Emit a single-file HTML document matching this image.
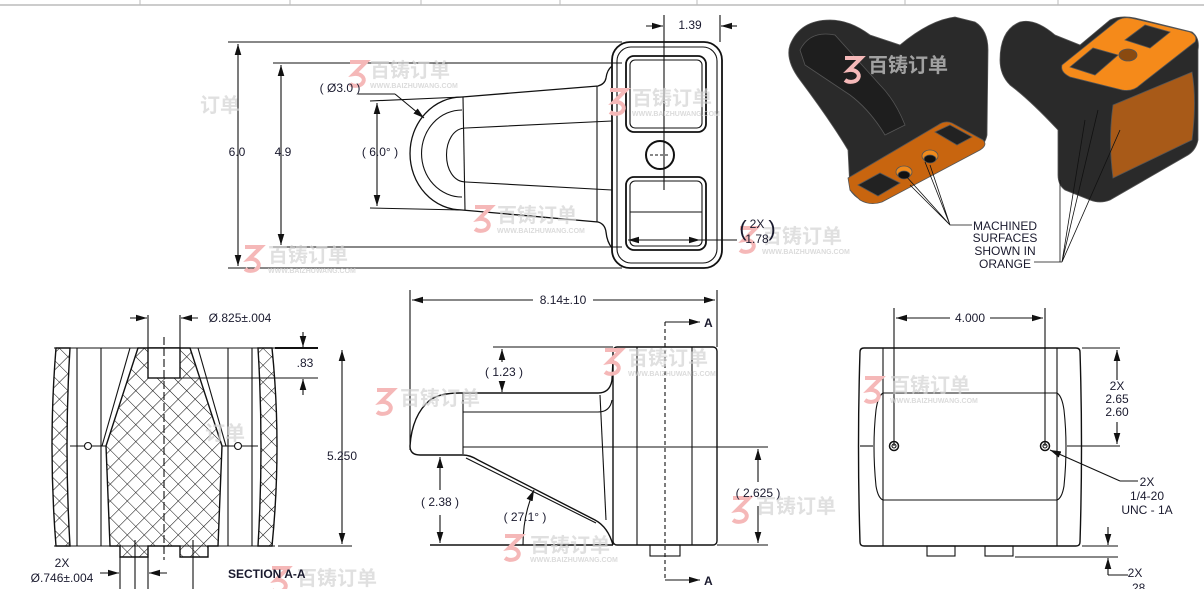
<!DOCTYPE html>
<html><head><meta charset="utf-8"><style>
html,body{margin:0;padding:0;background:#fff;width:1204px;height:589px;overflow:hidden}
svg{display:block}
text{font-family:"Liberation Sans",sans-serif;font-size:12px;fill:#1a1a2e}
.wm{font-family:"Liberation Sans","Noto Sans CJK SC",sans-serif;font-size:20px;font-weight:bold;fill:#d4d4d4;opacity:.7}
.wmu{font-size:7px;fill:#ccc}
.wz{fill:none;stroke:#f5b8b8;stroke-width:4}
</style></head><body>
<svg width="1204" height="589" viewBox="0 0 1204 589" xmlns="http://www.w3.org/2000/svg">
<defs>
<marker id="a" viewBox="0 0 10 6" refX="10" refY="3" markerWidth="10" markerHeight="6" orient="auto-start-reverse"><path d="M0,0L10,3L0,6z" fill="#111"/></marker>
<pattern id="h" width="12" height="12" patternUnits="userSpaceOnUse" patternTransform="rotate(45)"><path d="M0,0H12M0,0V12" stroke="#111" stroke-width="1.1"/></pattern>
</defs>
<line x1="0" y1="5" x2="1204" y2="5" stroke="#bbb" stroke-width="1.5"/>
<g stroke="#bbb"><line x1="140" y1="0" x2="140" y2="5"/><line x1="290" y1="0" x2="290" y2="5"/><line x1="421" y1="0" x2="421" y2="5"/><line x1="560" y1="0" x2="560" y2="5"/><line x1="697" y1="0" x2="697" y2="5"/><line x1="905" y1="0" x2="905" y2="5"/><line x1="1058" y1="0" x2="1058" y2="5"/></g>

<g fill="none" stroke="#111" stroke-width="1.1">
<line x1="228" y1="42" x2="622" y2="42"/><line x1="228" y1="268" x2="622" y2="268"/>
<line x1="238" y1="44" x2="238" y2="266" marker-start="url(#a)" marker-end="url(#a)"/>
<line x1="273" y1="63" x2="622" y2="63"/><line x1="273" y1="247" x2="622" y2="247"/>
<line x1="281" y1="65" x2="281" y2="245" marker-start="url(#a)" marker-end="url(#a)"/>
<rect x="612" y="42" width="110" height="226" rx="18" stroke-width="1.8"/>
<rect x="617" y="47" width="100" height="216" rx="14"/>
<rect x="626" y="56" width="80" height="76" rx="8" stroke-width="1.8"/>
<rect x="630" y="60" width="72" height="68" rx="5"/>
<rect x="626" y="177" width="80" height="73" rx="8" stroke-width="1.8"/>
<rect x="630" y="181" width="72" height="65" rx="5"/>
<line x1="630" y1="212" x2="702" y2="212"/>
<circle cx="660" cy="155" r="14" stroke-width="2"/>
<line x1="664" y1="15" x2="664" y2="190"/><line x1="720" y1="15" x2="720" y2="42"/>
<line x1="646" y1="26" x2="663" y2="26" marker-end="url(#a)"/><line x1="737" y1="26" x2="721" y2="26" marker-end="url(#a)"/>
<line x1="650" y1="155" x2="670" y2="155" stroke-dasharray="3 2"/>
<path d="M462,97 L598,86 Q605,84 606,78 Q607,70 612,66" stroke-width="1.3"/>
<path d="M462,210 L598,222 Q605,224 606,232 Q607,242 612,248" stroke-width="1.3"/>
<path d="M462,97 A52,56.5 0 0 0 462,210" stroke-width="1.3"/>
<path d="M462,110 A40,43 0 0 0 462,197"/>
<path d="M466,128 L612,121 M466,182 L612,190"/>
<path d="M466,128 C440,128 440,182 466,182"/>
<line x1="463" y1="97" x2="465" y2="210"/>
<line x1="597" y1="86" x2="597" y2="222"/>
<line x1="370" y1="101" x2="462" y2="97"/><line x1="370" y1="208" x2="462" y2="210"/>
<line x1="377" y1="103" x2="377" y2="206" marker-start="url(#a)" marker-end="url(#a)"/>
<line x1="358" y1="94" x2="395" y2="94"/><line x1="395" y1="94" x2="424" y2="118" marker-end="url(#a)"/>
<line x1="628" y1="240" x2="700" y2="240" marker-start="url(#a)" marker-end="url(#a)"/><line x1="700" y1="240" x2="737" y2="240"/>

<line x1="148" y1="315" x2="148" y2="348"/><line x1="180" y1="315" x2="180" y2="348"/>
<line x1="130" y1="318" x2="147" y2="318" marker-end="url(#a)"/><line x1="198" y1="318" x2="181" y2="318" marker-end="url(#a)"/>
<line x1="275" y1="348" x2="318" y2="348" stroke-width="2"/><line x1="148" y1="378" x2="318" y2="378"/>
<line x1="303" y1="332" x2="303" y2="347" marker-end="url(#a)"/><line x1="303" y1="395" x2="303" y2="379" marker-end="url(#a)"/>
<line x1="278" y1="546" x2="352" y2="546"/>
<line x1="342" y1="350" x2="342" y2="544" marker-start="url(#a)" marker-end="url(#a)"/>
</g>
<g stroke="#111" stroke-width="1.4">
<path d="M56,348 H70 Q64,446 70,546 H56 Q48,446 56,348Z" fill="url(#h)"/>
<path d="M258,348 H272 Q282,446 272,546 H258 Q264,446 258,348Z" fill="url(#h)"/>
<path d="M138,348 H190 L222,446 L218,546 H208 V557 H180 V546 H148 V557 H120 V546 H110 L106,446Z" fill="url(#h)"/>
<rect x="148" y="348" width="32" height="30" fill="#fff"/>
</g>
<g fill="none" stroke="#111" stroke-width="1.1">
<line x1="54" y1="348" x2="275" y2="348"/><line x1="54" y1="546" x2="275" y2="546"/>
<line x1="77" y1="348" x2="77" y2="546"/><line x1="101" y1="348" x2="101" y2="546"/>
<line x1="252" y1="348" x2="252" y2="546"/><line x1="228" y1="348" x2="228" y2="546"/>
<path d="M130,348 L102,446 M198,348 L226,446"/>
<line x1="70" y1="446" x2="106" y2="446"/><line x1="222" y1="446" x2="258" y2="446"/>
<circle cx="88" cy="446" r="3.5" fill="#fff"/><circle cx="238" cy="446" r="3.5" fill="#fff"/>
<line x1="164" y1="337" x2="164" y2="560" stroke-dasharray="8 3"/>
<line x1="120" y1="557" x2="120" y2="589"/><line x1="135" y1="540" x2="135" y2="589"/><line x1="148" y1="557" x2="148" y2="589"/><line x1="193" y1="540" x2="193" y2="589"/>
<line x1="100" y1="573" x2="119" y2="573" marker-end="url(#a)"/><line x1="167" y1="573" x2="149" y2="573" marker-end="url(#a)"/>

<line x1="410" y1="290" x2="410" y2="450"/><line x1="717" y1="290" x2="717" y2="347"/>
<line x1="412" y1="300" x2="533" y2="300" marker-start="url(#a)"/><line x1="593" y1="300" x2="715" y2="300" marker-end="url(#a)"/>
<rect x="613" y="347" width="104" height="198" rx="4" stroke-width="1.4"/>
<line x1="637" y1="347" x2="637" y2="545"/><line x1="692" y1="347" x2="692" y2="545"/>
<path d="M410,446 Q412,415 430,400 Q440,393 460,393 L598,393 Q610,393 612,380 L613,360" stroke-width="1.4"/>
<path d="M463,412 L598,412 Q610,412 612,400"/>
<line x1="463" y1="393" x2="463" y2="454"/>
<path d="M410,446 Q410,455 420,455 L463,455 Q470,455 478,460 L595,520 Q608,527 613,545" stroke-width="1.4"/>
<path d="M466,458 L596,523"/>
<line x1="600" y1="395" x2="606" y2="520"/>
<line x1="463" y1="447" x2="768" y2="447"/>
<line x1="430" y1="545" x2="613" y2="545" stroke-width="1.4"/><line x1="717" y1="545" x2="768" y2="545"/>
<rect x="650" y="545" width="30" height="11"/>
<line x1="493" y1="347" x2="613" y2="347"/>
<line x1="502" y1="349" x2="502" y2="362" marker-start="url(#a)"/><line x1="502" y1="383" x2="502" y2="392" marker-end="url(#a)"/>
<line x1="440" y1="457" x2="440" y2="490" marker-start="url(#a)"/><line x1="440" y1="515" x2="440" y2="543" marker-end="url(#a)"/>
<line x1="758" y1="449" x2="758" y2="482" marker-start="url(#a)"/><line x1="758" y1="506" x2="758" y2="543" marker-end="url(#a)"/>
<path d="M523,545 Q523,515 534,490" marker-end="url(#a)"/>
<path d="M665,322 V580" stroke-dasharray="4 3"/>
<line x1="665" y1="322" x2="700" y2="322" marker-end="url(#a)"/><line x1="665" y1="580" x2="700" y2="580" marker-end="url(#a)"/>

<path d="M864,348 H1076 Q1080,348 1080,352 Q1083,446 1080,542 Q1080,546 1076,546 H864 Q860,546 860,542 Q857,446 860,352 Q860,348 864,348Z" stroke-width="1.4"/>
<line x1="883" y1="348" x2="883" y2="546"/><line x1="1057" y1="348" x2="1057" y2="546"/>
<path d="M883,393 H1057 Q1062,396 1064,410 Q1068,446 1064,486 Q1062,498 1057,500 H883 Q878,498 876,486 Q872,446 876,410 Q878,396 883,393Z"/>
<line x1="860" y1="446" x2="873" y2="446"/><line x1="1067" y1="446" x2="1120" y2="446"/>
<circle cx="894" cy="446" r="4.5" stroke-width="1.5"/><circle cx="894" cy="446" r="2"/>
<circle cx="1045" cy="446" r="4.5" stroke-width="1.5"/><circle cx="1045" cy="446" r="2"/>
<line x1="894" y1="308" x2="894" y2="446"/><line x1="1045" y1="308" x2="1045" y2="446"/>
<line x1="896" y1="318" x2="950" y2="318" marker-start="url(#a)"/><line x1="990" y1="318" x2="1043" y2="318" marker-end="url(#a)"/>
<line x1="1082" y1="348" x2="1120" y2="348"/>
<line x1="1117" y1="350" x2="1117" y2="380" marker-start="url(#a)"/><line x1="1117" y1="422" x2="1117" y2="444" marker-end="url(#a)"/>
<line x1="1120" y1="481" x2="1138" y2="481"/><line x1="1120" y1="481" x2="1050" y2="450" marker-end="url(#a)"/>
<rect x="927" y="546" width="28" height="10"/><rect x="985" y="546" width="28" height="10"/>
<line x1="1082" y1="546" x2="1118" y2="546"/><line x1="1015" y1="557" x2="1118" y2="557"/>
<line x1="1108" y1="527" x2="1108" y2="545" marker-end="url(#a)"/><line x1="1108" y1="575" x2="1108" y2="558" marker-end="url(#a)"/>
<line x1="1108" y1="575" x2="1128" y2="575"/>
</g>

<g stroke="#555" stroke-width="0.8">
<path d="M790,45 Q800,20 830,20 Q850,20 870,35 L900,45 Q930,20 955,17 L975,22 Q988,30 988,50 L987,135 Q985,145 978,147 L880,202 Q860,205 850,190 L848,150 Q830,120 800,80 Q785,60 790,45Z" fill="#2a2a2a"/>
<path d="M800,50 Q810,30 835,35 L880,85 Q895,100 905,125 L885,135 Q870,110 850,95 L805,65Z" fill="#1e1e1e"/>
<path d="M848,178 L938,125 Q945,120 952,123 L983,140 Q988,145 980,150 L882,202 Q870,206 860,200 L850,190Z" fill="#c8650f"/>
<path d="M858,185 L880,173 L900,183 L878,196Z" fill="#222"/><path d="M935,132 L950,125 L972,137 L957,145Z" fill="#222"/>
<ellipse cx="904" cy="172" rx="8" ry="6" fill="#f08a1c"/><ellipse cx="904" cy="175" rx="6" ry="4" fill="#111"/>
<ellipse cx="930" cy="156" rx="8" ry="6" fill="#f08a1c"/><ellipse cx="930" cy="159" rx="6" ry="4" fill="#111"/>
</g>
<g stroke="#555" stroke-width="0.8">
<path d="M1000,60 Q1000,30 1020,22 Q1035,18 1055,35 L1080,45 L1110,20 Q1120,15 1135,18 L1192,32 Q1200,38 1198,50 L1198,140 Q1196,150 1188,155 L1110,200 Q1100,204 1090,200 L1065,190 Q1058,185 1058,175 L1058,130 Q1030,100 1010,85 Q1000,75 1000,60Z" fill="#2a2a2a"/>
<path d="M1062,65 L1118,20 Q1125,16 1135,19 L1190,32 Q1198,36 1195,42 L1140,85 Q1133,92 1122,90 L1070,77 Q1060,72 1062,65Z" fill="#f58a1a"/>
<path d="M1070,67 L1093,48 L1118,55 L1095,75Z" fill="#2a2a2a"/><path d="M1125,40 L1145,25 L1170,32 L1150,48Z" fill="#2a2a2a"/>
<ellipse cx="1128" cy="55" rx="9" ry="6" fill="#8a4a10"/>
<path d="M1113,105 L1192,72 Q1197,100 1192,140 L1113,178 Q1108,140 1113,105Z" fill="#a85a18"/>
</g>
<g stroke="#111" stroke-width="0.8" fill="none">
<path d="M910,185 L950,225 M930,165 L950,225 M925,162 L950,225 M905,175 L950,225 L972,225"/>
<path d="M1060,180 L1060,262 M1085,120 L1062,262 M1098,110 L1062,262 M1120,130 L1062,262 M1062,262 L1034,262"/>
</g>

<g>
<path class="wz" d="M350,62 h16 l-12,12 a8,6 0 1 1 -4,10"/><text class="wm" x="370" y="77">百铸订单</text><text class="wmu wm" x="370" y="88">WWW.BAIZHUWANG.COM</text>
<path class="wz" d="M610,90 h16 l-12,12 a8,6 0 1 1 -4,10"/><text class="wm" x="632" y="105">百铸订单</text><text class="wmu wm" x="632" y="116">WWW.BAIZHUWANG.COM</text>
<path class="wz" d="M475,207 h16 l-12,12 a8,6 0 1 1 -4,10"/><text class="wm" x="497" y="222">百铸订单</text><text class="wmu wm" x="497" y="233">WWW.BAIZHUWANG.COM</text>
<path class="wz" d="M245,247 h16 l-12,12 a8,6 0 1 1 -4,10"/><text class="wm" x="268" y="262">百铸订单</text><text class="wmu wm" x="268" y="273">WWW.BAIZHUWANG.COM</text>
<path class="wz" d="M740,228 h16 l-12,12 a8,6 0 1 1 -4,10"/><text class="wm" x="762" y="243">百铸订单</text><text class="wmu wm" x="762" y="254">WWW.BAIZHUWANG.COM</text>
<path class="wz" d="M605,350 h16 l-12,12 a8,6 0 1 1 -4,10"/><text class="wm" x="628" y="365">百铸订单</text><text class="wmu wm" x="628" y="376">WWW.BAIZHUWANG.COM</text>
<path class="wz" d="M377,390 h16 l-12,12 a8,6 0 1 1 -4,10"/><text class="wm" x="400" y="405">百铸订单</text>
<path class="wz" d="M865,378 h16 l-12,12 a8,6 0 1 1 -4,10"/><text class="wm" x="890" y="392">百铸订单</text><text class="wmu wm" x="890" y="403">WWW.BAIZHUWANG.COM</text>
<path class="wz" d="M733,498 h16 l-12,12 a8,6 0 1 1 -4,10"/><text class="wm" x="756" y="513">百铸订单</text>
<path class="wz" d="M505,536 h16 l-12,12 a8,6 0 1 1 -4,10"/><text class="wm" x="530" y="552">百铸订单</text><text class="wmu wm" x="530" y="562">WWW.BAIZHUWANG.COM</text>
<path class="wz" d="M272,568 h16 l-12,12 a8,6 0 1 1 -4,10"/><text class="wm" x="297" y="585">百铸订单</text>
<text class="wm" x="200" y="112">订单</text><text class="wm" x="205" y="440">订单</text>
<path class="wz" d="M845,58 h16 l-12,12 a8,6 0 1 1 -4,10"/><text class="wm" x="868" y="72">百铸订单</text>
</g>

<g text-anchor="middle">
<text x="237" y="156">6.0</text><text x="283" y="156">4.9</text>
<text x="340" y="92">( Ø3.0 )</text><text x="380" y="156">( 6.0° )</text>
<text x="690" y="29">1.39</text>
<text x="757" y="228">2X</text><text x="757" y="243">1.78</text>
<text x="743" y="236" style="font-size:22px">(</text><text x="772" y="236" style="font-size:22px">)</text>
<text x="240" y="322">Ø.825±.004</text><text x="305" y="367">.83</text>
<text x="342" y="460">5.250</text>
<text x="62" y="567">2X</text><text x="62" y="582">Ø.746±.004</text>
<text x="563" y="304">8.14±.10</text>
<text x="504" y="376">( 1.23 )</text><text x="440" y="506">( 2.38 )</text>
<text x="525" y="521">( 27.1° )</text><text x="758" y="497">( 2.625 )</text>
<text x="970" y="322">4.000</text>
<text x="1117" y="390">2X</text><text x="1117" y="403">2.65</text><text x="1117" y="416">2.60</text>
<text x="1147" y="486">2X</text><text x="1147" y="500">1/4-20</text><text x="1147" y="514">UNC - 1A</text>
<text x="1135" y="577">2X</text><text x="1137" y="592">.28</text>
<text x="1005" y="230">MACHINED</text><text x="1005" y="242">SURFACES</text><text x="1005" y="255">SHOWN IN</text><text x="1005" y="268">ORANGE</text>
</g>
<text x="228" y="578" style="font-weight:bold;font-size:12px">SECTION A-A</text>
<text x="704" y="327" style="font-weight:bold">A</text><text x="704" y="585" style="font-weight:bold">A</text>
</svg>
</body></html>
